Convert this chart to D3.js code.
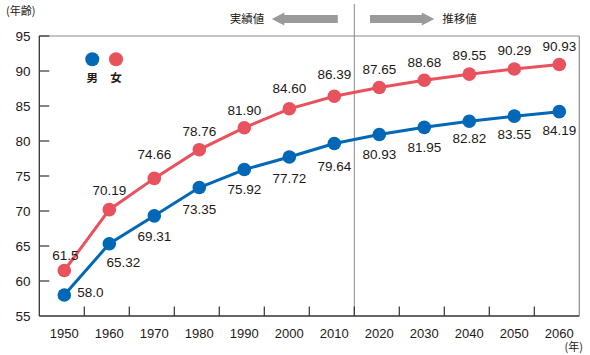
<!DOCTYPE html>
<html><head><meta charset="utf-8">
<script src="https://cdn.jsdelivr.net/npm/d3@7/dist/d3.min.js"></script>
<style>
html,body{margin:0;padding:0;background:#fff;}
svg{display:block;}
text{font-family:"Liberation Sans",Arial,Helvetica,sans-serif;fill:#231815;}
.jp{font-family:"Noto Sans CJK JP","Noto Sans",sans-serif;}
</style></head>
<body>
<svg id="chart" width="590" height="355"></svg>
<script>
const years = [1950,1960,1970,1980,1990,2000,2010,2020,2030,2040,2050,2060];
const male = [58.0,65.32,69.31,73.35,75.92,77.72,79.64,80.93,81.95,82.82,83.55,84.19];
const female = [61.5,70.19,74.66,78.76,81.90,84.60,86.39,87.65,88.68,89.55,90.29,90.93];
const maleLabels = ["58.0","65.32","69.31","73.35","75.92","77.72","79.64","80.93","81.95","82.82","83.55","84.19"];
const femaleLabels = ["61.5","70.19","74.66","78.76","81.90","84.60","86.39","87.65","88.68","89.55","90.29","90.93"];
const yTicks = [55,60,65,70,75,80,85,90,95];
const seriesNames = ["男","女"];
const splitYear = 2020;

// label placement (style, not data)
const femaleDy = [-15.5,-20,-24,-19,-18,-21,-22,-18.5,-18.5,-19,-19,-18];
const maleDx = [26,14,0,0,0,0,0,0,0,0,0,0];
const maleDy = [-3,18,20,22,20,21,22.5,20,20,16.5,18,18];

const colors = {male:"#0068B7", female:"#E8525D"};
const svg = d3.select("#chart");

const band = d3.scaleBand().domain(years).range([39.3,579.3]);
const x = d3.scaleLinear().domain([1950,2060]).range([64.3,559.3]);
const y = d3.scaleLinear().domain([55,95]).range([316,36]);

const left = band.range()[0], right = band.range()[1];

// frame: top and right gray
svg.append("line").attr("x1",left).attr("x2",right).attr("y1",y(95)).attr("y2",y(95))
  .attr("stroke","#8a8a8a").attr("stroke-width",1.2);
svg.append("line").attr("x1",right).attr("x2",right).attr("y1",y(95)).attr("y2",y(55))
  .attr("stroke","#8a8a8a").attr("stroke-width",1.2);

// divider
const divX = band(splitYear);
svg.append("line").attr("x1",divX).attr("x2",divX).attr("y1",4).attr("y2",y(55))
  .attr("stroke","#8a8a8a").attr("stroke-width",1);

// y ticks
svg.selectAll(".ytick").data(yTicks.filter(d=>d>55)).join("line")
  .attr("x1",left).attr("x2",left+10).attr("y1",d=>y(d)).attr("y2",d=>y(d))
  .attr("stroke","#333").attr("stroke-width",1.2);
svg.selectAll(".ylab").data(yTicks).join("text")
  .attr("x",30.5).attr("y",d=>y(d)).attr("dy","0.36em").attr("text-anchor","end")
  .attr("font-size",13.5).text(d=>d);

// x ticks at band boundaries
svg.selectAll(".xtick").data(years.slice(1)).join("line")
  .attr("x1",d=>band(d)).attr("x2",d=>band(d)).attr("y1",y(55)).attr("y2",y(55)-9.5)
  .attr("stroke","#333").attr("stroke-width",1.2);
svg.selectAll(".xlab").data(years).join("text")
  .attr("x",d=>x(d)).attr("y",333).attr("dy","0.36em").attr("text-anchor","middle")
  .attr("font-size",13).text(d=>d);

// axes lines
svg.append("line").attr("x1",left).attr("x2",left).attr("y1",y(95)).attr("y2",y(55))
  .attr("stroke","#333").attr("stroke-width",1.3);
svg.append("line").attr("x1",left).attr("x2",right).attr("y1",y(55)).attr("y2",y(55))
  .attr("stroke","#333").attr("stroke-width",1.3);

// unit labels
svg.append("text").attr("class","jp").attr("x",6).attr("y",11).attr("dy","0.36em")
  .attr("font-size",11).text("(年齢)");
svg.append("text").attr("class","jp").attr("x",583).attr("y",347.5).attr("dy","0.36em")
  .attr("text-anchor","end").attr("font-size",11).text("(年)");

// arrows
const arrowY = 19;
function arrow(x0, x1){ // from tail x0 to tip x1
  const dir = Math.sign(x1-x0), head = 12.5, sh = 4, hh = 6.5;
  const xb = x1 - dir*head;
  return `M${x0},${arrowY-sh}L${xb},${arrowY-sh}L${xb},${arrowY-hh}L${x1},${arrowY}L${xb},${arrowY+hh}L${xb},${arrowY+sh}L${x0},${arrowY+sh}Z`;
}
svg.append("path").attr("d",arrow(divX-16.5, divX-82.5)).attr("fill","#9a9a9a");
svg.append("path").attr("d",arrow(divX+15.7, divX+80)).attr("fill","#9a9a9a");
svg.append("text").attr("class","jp").attr("x",divX-90).attr("y",arrowY).attr("dy","0.36em")
  .attr("text-anchor","end").attr("font-size",11.5).text("実績値");
svg.append("text").attr("class","jp").attr("x",divX+88).attr("y",arrowY).attr("dy","0.36em")
  .attr("text-anchor","start").attr("font-size",11.5).text("推移値");

// lines
const line = d3.line().x(d=>x(d[0])).y(d=>y(d[1]));
const maleData = years.map((yr,i)=>[yr,male[i]]);
const femaleData = years.map((yr,i)=>[yr,female[i]]);
[[femaleData,colors.female],[maleData,colors.male]].forEach(([data,c])=>{
  svg.append("path").datum(data).attr("d",line).attr("fill","none")
    .attr("stroke",c).attr("stroke-width",3);
  svg.selectAll(null).data(data).join("circle")
    .attr("cx",d=>x(d[0])).attr("cy",d=>y(d[1])).attr("r",6.8).attr("fill",c);
});

// value labels
svg.selectAll(".flab").data(femaleData).join("text")
  .attr("x",d=>x(d[0])+ (d[0]===1950?1:0)).attr("y",(d,i)=>y(d[1])+femaleDy[i]).attr("dy","0.36em")
  .attr("text-anchor","middle").attr("font-size",13.5).text((d,i)=>femaleLabels[i]);
svg.selectAll(".mlab").data(maleData).join("text")
  .attr("x",(d,i)=>x(d[0])+maleDx[i]).attr("y",(d,i)=>y(d[1])+maleDy[i]).attr("dy","0.36em")
  .attr("text-anchor","middle").attr("font-size",13.5).text((d,i)=>maleLabels[i]);

// legend
const legX = [92.3,116], legY = 59.3;
const legColors = [colors.male, colors.female];
svg.selectAll(".legc").data(seriesNames).join("circle")
  .attr("cx",(d,i)=>legX[i]).attr("cy",legY).attr("r",7).attr("fill",(d,i)=>legColors[i]);
svg.selectAll(".legt").data(seriesNames).join("text").attr("class","jp")
  .attr("x",(d,i)=>legX[i]).attr("y",legY+19).attr("dy","0.36em").attr("text-anchor","middle")
  .attr("font-size",11.5).attr("font-weight","bold").text(d=>d);
</script>
</body></html>
